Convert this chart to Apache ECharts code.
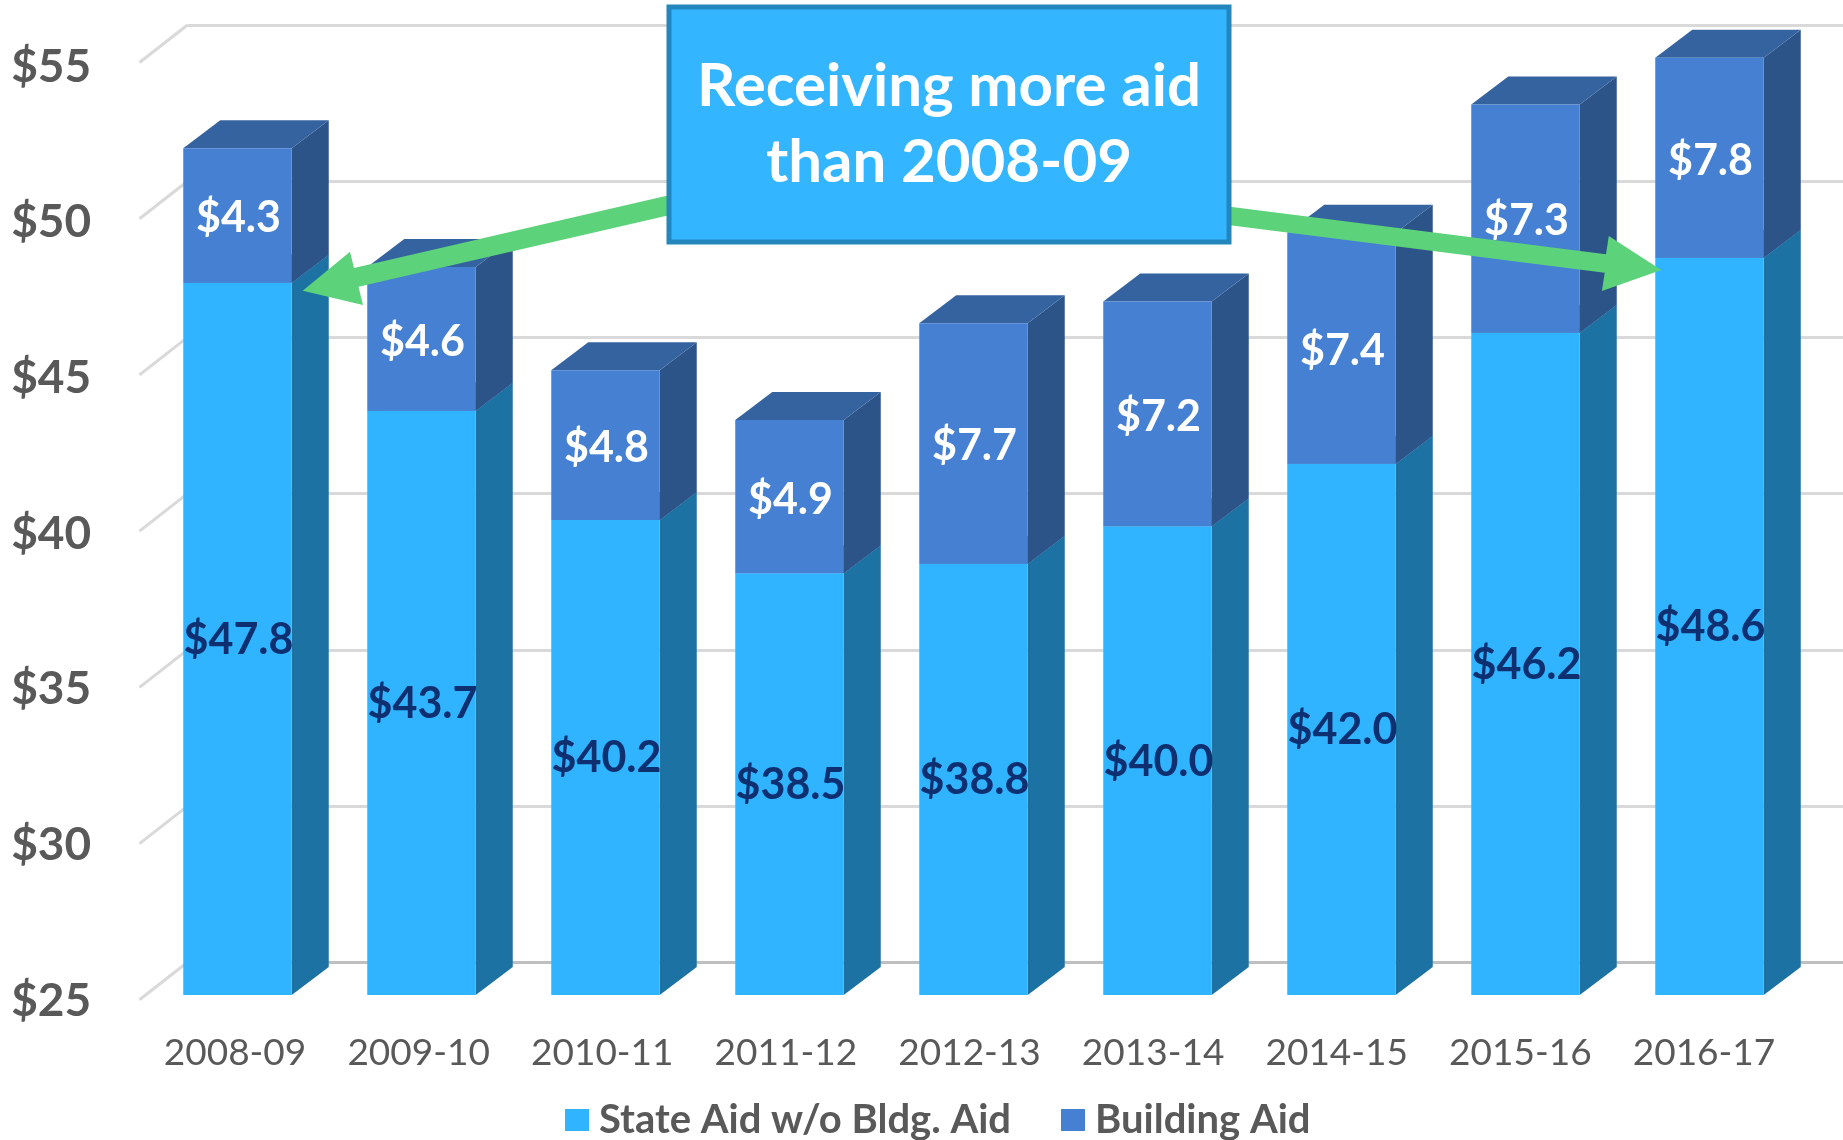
<!DOCTYPE html>
<html>
<head>
<meta charset="utf-8">
<style>html,body{margin:0;padding:0;background:#fff}#c{width:1843px;height:1140px}</style>
<script src="https://cdn.jsdelivr.net/npm/echarts@6/dist/echarts.min.js"></script>
</head>
<body>
<div id="c"></div>
<script>
const categories = ['2008-09','2009-10','2010-11','2011-12','2012-13','2013-14','2014-15','2015-16','2016-17'];
const stateAid = [47.8,43.7,40.2,38.5,38.8,40.0,42.0,46.2,48.6];
const buildingAid = [4.3,4.6,4.8,4.9,7.7,7.2,7.4,7.3,7.8];
const yMin = 25, yMax = 55, yStep = 5;
const wallTicks = [25,30,35,40,45,50,55];
const seriesNames = ['State Aid w/o Bldg. Aid','Building Aid'];
const calloutLines = 'Receiving more aid\nthan 2008-09';

const FONT = 'Lato';
const BAR_W = 108.5, DX = 37, DY = 28;
const LABEL_FONT = 'bold 43px ' + FONT;

function barRender(front, side, top, labelColor, base, vals, labelDy) {
  return function (params, api) {
    const i = params.dataIndex;
    const cx = api.coord([i, yMin])[0];
    const lo = base ? base[i] : yMin;
    const hi = Math.min((base ? base[i] : 0) + vals[i], yMax);
    const y0 = api.coord([i, lo])[1];
    const y1 = api.coord([i, hi])[1];
    const l = cx - BAR_W / 2, r = cx + BAR_W / 2;
    return {
      type: 'group',
      children: [
        { type: 'polygon', shape: { points: [[r, y1], [r + DX, y1 - DY], [r + DX, y0 - DY], [r, y0]] }, style: { fill: side } },
        { type: 'polygon', shape: { points: [[l, y1], [l + DX, y1 - DY], [r + DX, y1 - DY], [r, y1]] }, style: { fill: top } },
        { type: 'rect', shape: { x: l, y: y1, width: BAR_W, height: y0 - y1 }, style: { fill: front } },
        { type: 'text', z2: 5, style: { text: '$' + vals[i].toFixed(1), x: cx + 1, y: (y0 + y1) / 2 + labelDy, fill: labelColor, font: LABEL_FONT, align: 'center', verticalAlign: 'middle' } }
      ]
    };
  };
}

const chart = echarts.init(document.getElementById('c'), null, { renderer: 'canvas' });
chart.setOption({
  animation: false,
  backgroundColor: '#fff',
  grid: [
    { left: 145.5, width: 1656, top: 57.7, height: 937.3 },
    { left: 143.2, width: 1652.6, top: 67, height: 934 },
    { left: 187.5, right: 0, top: 25, height: 937.3 }
  ],
  xAxis: [
    { gridIndex: 0, type: 'category', data: categories, show: false },
    { gridIndex: 1, type: 'category', data: categories, axisLine: { show: false }, axisTick: { show: false },
      axisLabel: { interval: 0, margin: 34, color: '#595959', fontFamily: FONT, fontSize: 37 } },
    { gridIndex: 2, type: 'value', min: 0, max: 1, axisLine: { show: true, onZero: false, lineStyle: { color: '#bfbfbf', width: 3 } }, axisTick: { show: false }, axisLabel: { show: false }, splitLine: { show: false } }
  ],
  yAxis: [
    { gridIndex: 0, type: 'value', min: yMin, max: yMax, interval: yStep, show: false },
    { gridIndex: 1, type: 'value', min: yMin, max: yMax, interval: yStep, axisLine: { show: false }, axisTick: { show: false }, splitLine: { show: false },
      axisLabel: { margin: 52, color: '#595959', fontFamily: FONT, fontWeight: 'bold', fontSize: 46, formatter: v => '$' + v } },
    { gridIndex: 2, type: 'value', min: yMin, max: yMax, interval: yStep, axisLine: { show: false }, axisTick: { show: false }, axisLabel: { show: false },
      splitLine: { show: true, lineStyle: { color: '#d9d9d9', width: 3 } } }
  ],
  legend: {
    data: seriesNames, left: 565, top: 1100, padding: 0, itemWidth: 24, itemHeight: 22, itemGap: 50, icon: 'rect', selectedMode: false,
    textStyle: { color: '#595959', fontFamily: FONT, fontWeight: 'bold', fontSize: 40, padding: [0, 0, 0, 5] }
  },
  series: [
    { type: 'custom', name: 'wall', xAxisIndex: 2, yAxisIndex: 2, silent: true, z: 1, clip: false,
      data: wallTicks.map(v => [0, v]),
      renderItem: (params, api) => {
        const p = api.coord([0, api.value(1)]);
        return { type: 'line', shape: { x1: p[0], y1: p[1], x2: p[0] - 48, y2: p[1] + 37.5 }, style: { stroke: '#d9d9d9', lineWidth: 3 } };
      } },
    { type: 'custom', name: seriesNames[0], xAxisIndex: 0, yAxisIndex: 0, z: 3, clip: false,
      itemStyle: { color: '#30b4ff' }, data: stateAid,
      renderItem: barRender('#30b4ff', '#1c73a3', '#35639f', '#0e2f70', null, stateAid, 1) },
    { type: 'custom', name: seriesNames[1], xAxisIndex: 0, yAxisIndex: 0, z: 4, clip: false,
      itemStyle: { color: '#4580d2' }, data: buildingAid,
      renderItem: barRender('#4580d2', '#2c5489', '#35639f', '#ffffff', stateAid, buildingAid, 3) }
  ],
  graphic: [
    { type: 'polygon', z: 20, silent: true, shape: { points: [[670, 195], [354, 268], [350, 251.7], [302.7, 290.7], [363, 305], [358.5, 286.7], [670, 215]] }, style: { fill: '#5cd27a' } },
    { type: 'polygon', z: 20, silent: true, shape: { points: [[1228, 206.5], [1606, 254.3], [1608.8, 236], [1661.3, 270], [1601.9, 291], [1604.7, 272.7], [1228, 225]] }, style: { fill: '#5cd27a' } },
    { type: 'rect', z: 21, silent: true, shape: { x: 669, y: 7, width: 560, height: 235 }, style: { fill: '#33b5ff', stroke: '#2387bd', lineWidth: 5 } },
    { type: 'text', z: 22, silent: true, style: { text: calloutLines, x: 949, y: 125, fill: '#ffffff', font: 'bold 60px ' + FONT, lineHeight: 76, align: 'center', verticalAlign: 'middle' } }
  ]
});
</script>
</body>
</html>
